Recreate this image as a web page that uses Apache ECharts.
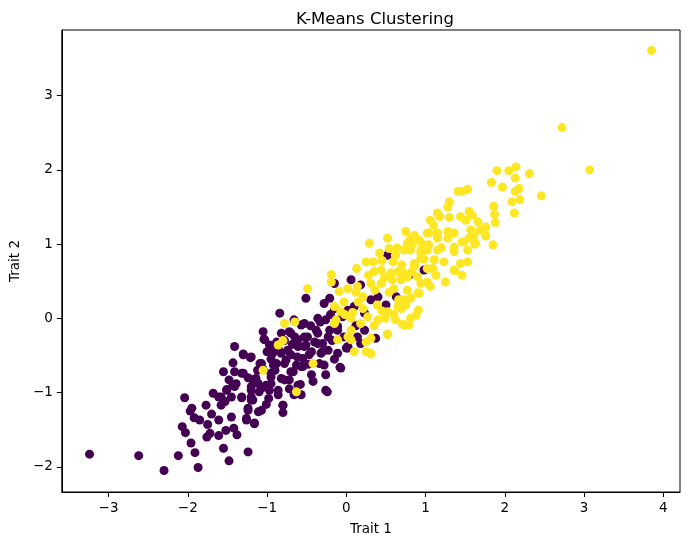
<!DOCTYPE html>
<html>
<head>
<meta charset="utf-8">
<script src="https://cdn.jsdelivr.net/npm/echarts@6/dist/echarts.min.js"></script>
<style>
  html, body { margin: 0; padding: 0; background: #fff; }
  #chart { width: 689px; height: 545px; }
</style>
</head>
<body>
<div id="chart"></div>
<script>
// cluster 0 (purple), [trait1, trait2]
var clusterA = [
  [-3.24, -1.83], [-2.62, -1.85], [-2.30, -2.05], [-2.12, -1.85], [-1.87, -2.01],
  [-1.91, -1.81], [-1.96, -1.68], [-2.03, -1.54], [-2.07, -1.46], [-2.04, -1.07],
  [-1.97, -1.25], [-1.92, -1.34], [-1.76, -1.60], [-1.72, -1.55], [-1.75, -1.43],
  [-1.70, -1.29], [-1.61, -1.37], [-1.61, -1.58], [-1.55, -1.75], [-1.48, -1.92],
  [-1.52, -1.51], [-1.42, -1.48], [-1.38, -1.57], [-1.45, -1.33], [-1.24, -1.80],
  [-1.61, -1.06], [-1.53, -1.12], [-1.58, -1.17], [-1.45, -1.06], [-1.51, -0.97],
  [-1.41, -0.92], [-1.32, -1.07], [-1.39, -0.88], [-1.24, -1.24], [-1.26, -1.37],
  [-1.16, -1.41], [-1.11, -1.26], [-1.20, -0.97], [-1.18, -1.10], [-1.41, -0.72],
  [-1.30, -0.74], [-1.18, -0.83], [-1.95, -1.21], [-1.41, -0.38], [-1.43, -0.60],
  [-1.30, -0.48], [-1.21, -0.53], [-1.32, -0.74], [-1.51, -0.96], [-1.43, -0.90],
  [-1.32, -1.06], [-1.58, -1.06], [-1.20, -1.10], [-1.09, -0.61], [-1.05, -0.69],
  [-1.14, -0.81], [-1.03, -0.29], [-0.88, -0.32], [-1.20, -0.92], [-1.07, -0.94],
  [-0.95, -0.88], [-0.86, -0.97], [-0.82, -0.81], [-0.95, -0.74], [-0.88, -0.61],
  [-0.82, -0.47], [-0.70, -0.49], [-0.78, -0.61], [-0.67, -0.72], [-0.72, -0.83],
  [-0.61, -0.90], [-0.57, -1.03], [-0.80, -1.17], [-0.84, 0.07], [-0.82, -0.20],
  [-0.66, -0.02], [-0.70, -0.20], [-0.61, -0.29], [-0.53, -0.07], [-0.53, -0.25],
  [-0.53, -0.38], [-0.55, -0.54], [-0.44, -0.45], [-0.57, -0.65], [-0.51, 0.27],
  [-0.36, 0.00], [-0.36, -0.20], [-0.30, -0.34], [-0.28, -0.63], [-0.32, -0.47],
  [-0.23, -0.43], [-0.21, -0.16], [-0.28, 0.20], [-0.21, 0.27], [-0.15, 0.13],
  [-0.11, -0.16], [-0.07, -0.67], [0.00, -0.40], [-0.26, -0.97], [-1.04, -0.28],
  [-0.58, -0.89], [-0.66, -1.03], [-0.24, -0.99], [-0.08, -0.66], [-0.26, -0.76],
  [-0.34, -0.61], [-0.11, -0.47], [0.02, -0.40], [0.14, -0.25], [0.37, -0.27],
  [-1.24, -1.21], [-1.26, -1.35], [-1.16, -1.42], [-1.07, -1.24], [-1.01, -1.16],
  [-0.80, -1.17], [-0.80, -1.27], [-0.86, -1.03], [-0.97, -0.97], [-1.11, -0.88],
  [-0.95, -0.79], [-0.78, -0.83], [-0.70, -0.72], [-1.20, -1.06], [-1.30, -0.49],
  [-1.20, -0.52], [-1.07, -0.61], [-0.93, -0.47], [-0.74, -0.43], [-0.61, -0.38],
  [-0.55, -0.65], [-0.47, -0.49], [-0.30, -0.45], [-0.23, -0.25], [-0.49, -0.25],
  [-0.65, -0.25], [-0.36, -0.34], [0.52, 0.85], [-0.15, 0.47], [0.06, 0.52],
  [0.18, 0.45], [0.31, 0.25], [0.50, 0.18], [0.63, 0.29], [0.98, 0.65],
  [0.10, 0.16], [0.23, 0.07], [0.02, 0.11], [0.40, 0.29], [-0.11, -0.11],
  [0.23, -0.16], [0.18, -0.34], [-0.03, -0.25], [0.02, -0.38], [0.79, 0.58],
  [-1.05, -0.18], [-0.97, -0.36], [-0.85, -0.43], [-0.76, -0.56], [-0.63, -0.63],
  [-0.44, -0.76], [-0.51, -0.36], [-0.38, -0.16], [-0.26, -0.02], [-0.57, -0.09],
  [-0.72, -0.18], [-0.92, -0.63], [-1.10, -0.99], [-1.01, -0.90], [-1.24, -0.80],
  [-1.48, -0.83], [-1.55, -0.72], [-1.68, -1.01], [-1.85, -1.37], [-1.77, -1.17],
  [-0.95, -0.55], [-0.88, -0.42], [-0.78, -0.30], [-0.68, -0.35], [-0.62, -0.52],
  [-0.48, -0.62], [-0.40, -0.32], [-0.45, -0.10], [-0.33, -0.05], [-0.18, -0.30],
  [-0.15, -0.55], [-0.98, -1.08], [-0.90, -0.70], [-1.12, -0.70], [-1.00, -0.45],
  [-0.72, -0.95], [-0.42, -0.85], [-0.20, 0.05], [-0.05, 0.02], [0.12, -0.10]
];

// cluster 1 (yellow)
var clusterB = [
  [3.85, 3.61], [2.72, 2.57], [3.07, 2.00], [1.90, 1.99], [2.05, 1.99],
  [2.14, 2.04], [2.13, 1.89], [2.31, 1.95], [1.83, 1.83], [1.97, 1.77],
  [2.18, 1.75], [2.13, 1.71], [2.46, 1.65], [2.09, 1.57], [2.19, 1.60],
  [2.12, 1.42], [1.86, 1.51], [1.87, 1.40], [1.88, 1.29], [1.41, 1.71],
  [1.53, 1.74], [1.46, 1.71], [1.30, 1.57], [1.28, 1.50], [1.15, 1.42],
  [1.06, 1.32], [1.18, 1.37], [1.30, 1.36], [1.44, 1.37], [1.55, 1.44],
  [1.51, 1.32], [1.59, 1.39], [1.66, 1.30], [1.76, 1.23], [1.69, 1.19],
  [1.57, 1.19], [1.55, 1.08], [1.61, 1.12], [1.76, 1.11], [1.63, 1.01],
  [1.85, 0.99], [1.46, 1.03], [1.36, 1.15], [1.28, 1.17], [1.15, 1.15],
  [1.02, 1.15], [1.15, 1.08], [1.28, 1.08], [1.36, 0.96], [1.53, 0.92],
  [1.36, 0.90], [1.15, 0.92], [1.23, 0.76], [1.53, 0.76], [1.44, 0.74],
  [1.36, 0.65], [1.46, 0.58], [1.09, 0.67], [0.94, 0.92], [0.81, 1.08],
  [0.75, 1.17], [0.84, 1.01], [1.02, 0.92], [0.73, 0.92], [1.62, 1.00],
  [1.48, 1.03], [1.37, 0.64], [1.06, 0.43], [0.92, 0.34], [0.81, 0.27],
  [0.69, 0.13], [0.71, -0.08], [0.94, 0.88], [0.98, 0.99], [0.86, 0.74],
  [0.73, 0.61], [0.90, 0.56], [0.94, 0.47], [0.29, 1.01], [0.25, 0.76],
  [0.13, 0.67], [-0.19, 0.59], [-0.19, 0.49], [-0.49, 0.40], [0.52, 1.08],
  [0.54, 0.94], [0.42, 0.88], [0.35, 0.63], [0.44, 0.47], [0.31, 0.47],
  [0.14, 0.43], [0.02, 0.40], [-0.09, 0.36], [-0.03, 0.22], [-0.07, 0.09],
  [-0.15, 0.16], [0.06, 0.00], [0.21, 0.13], [0.27, 0.02], [0.40, -0.02],
  [0.52, 0.09], [0.65, 0.16], [0.73, 0.25], [0.77, 0.38], [0.60, 0.40],
  [0.90, 0.34], [0.77, 0.56], [0.65, 0.63], [0.56, 0.61], [0.86, 0.70],
  [1.02, 0.67], [0.94, 0.81], [0.81, 0.92], [0.77, 1.01], [0.86, 1.12],
  [1.02, 0.94], [1.11, 0.79], [1.04, 1.15], [1.15, 1.10], [0.31, -0.27],
  [0.52, -0.22], [0.73, -0.09], [0.81, 0.00], [0.06, -0.16], [-0.15, -0.07],
  [0.18, -0.07], [0.25, -0.45], [0.31, -0.47], [0.10, -0.45], [0.31, -0.48],
  [0.52, -0.21], [0.25, -0.32], [0.06, -0.29], [-1.05, -0.70], [-0.63, -0.99],
  [-0.78, -0.07], [-0.65, -0.05], [-0.80, -0.30], [-0.42, -0.61], [-0.13, -0.02],
  [-0.11, -0.29], [0.02, -0.25], [-0.86, -0.36], [0.75, 0.18], [0.88, 0.04],
  [0.62, -0.02], [0.79, -0.09], [0.34, 0.76], [0.44, 0.65], [0.59, 0.76],
  [0.69, 0.52], [0.54, 0.35], [0.39, 0.18], [0.21, 0.29], [0.08, 0.08],
  [0.49, 0.00], [0.66, 0.25], [0.91, 0.11], [1.02, 0.49], [1.13, 0.58],
  [1.25, 0.49], [1.04, 0.99], [0.64, 0.95],
  [0.45, 0.78], [0.62, 0.85], [0.70, 0.72], [0.58, 0.52], [0.48, 0.55],
  [0.36, 0.38], [0.28, 0.58], [0.15, 0.22], [0.82, 0.62], [0.98, 0.80],
  [1.20, 0.95], [1.10, 1.25], [0.92, 1.05], [0.60, 0.05], [0.45, 0.10],
  [0.35, -0.10], [0.12, 0.35], [-0.02, 0.05]
];

var xTicks = [-3, -2, -1, 0, 1, 2, 3, 4];
var yTicks = [-2, -1, 0, 1, 2, 3];

var PURPLE = '#440154';
var YELLOW = '#fde725';
var FONT = 'DejaVu Sans';

function minusSign(v) {
    return String(v).replace('-', '\u2212');
}

var chart = echarts.init(document.getElementById('chart'));
var option = {
    backgroundColor: '#fff',
    animation: false,
    title: {
        text: 'K-Means Clustering',
        left: 370,
        top: 6,
        textAlign: 'center',
        textStyle: { fontFamily: FONT, fontSize: 16.5, fontWeight: 'normal', color: '#000' }
    },
    grid: {
        left: 60, right: 9, top: 30, bottom: 53,
        show: true, borderColor: '#000', borderWidth: 1
    },
    xAxis: {
        type: 'value',
        min: -3.59, max: 4.21,
        name: 'Trait 1',
        nameLocation: 'middle',
        nameGap: 30,
        nameTextStyle: { fontFamily: FONT, fontSize: 13.5, color: '#000' },
        splitLine: { show: false },
        axisLine: { show: true, onZero: false, lineStyle: { color: '#000', width: 1 } },
        axisTick: { show: true, length: 5, lineStyle: { color: '#000' }, customValues: xTicks },
        axisLabel: {
            fontFamily: FONT, fontSize: 13.5, color: '#000', margin: 9,
            customValues: xTicks,
            formatter: minusSign
        }
    },
    yAxis: {
        type: 'value',
        min: -2.34, max: 3.885,
        name: 'Trait 2',
        nameLocation: 'middle',
        nameGap: 38,
        nameRotate: 90,
        nameTextStyle: { fontFamily: FONT, fontSize: 13.5, color: '#000' },
        splitLine: { show: false },
        axisLine: { show: true, onZero: false, lineStyle: { color: '#000', width: 1 } },
        axisTick: { show: true, length: 5, lineStyle: { color: '#000' }, customValues: yTicks },
        axisLabel: {
            fontFamily: FONT, fontSize: 13.5, color: '#000', margin: 9,
            customValues: yTicks,
            formatter: minusSign
        }
    },
    series: [
        {
            type: 'scatter',
            data: clusterA,
            symbolSize: 9,
            itemStyle: { color: PURPLE, opacity: 1 }
        },
        {
            type: 'scatter',
            data: clusterB,
            symbolSize: 9,
            itemStyle: { color: YELLOW, opacity: 1 }
        }
    ]
};
option && chart.setOption(option);
</script>
</body>
</html>
